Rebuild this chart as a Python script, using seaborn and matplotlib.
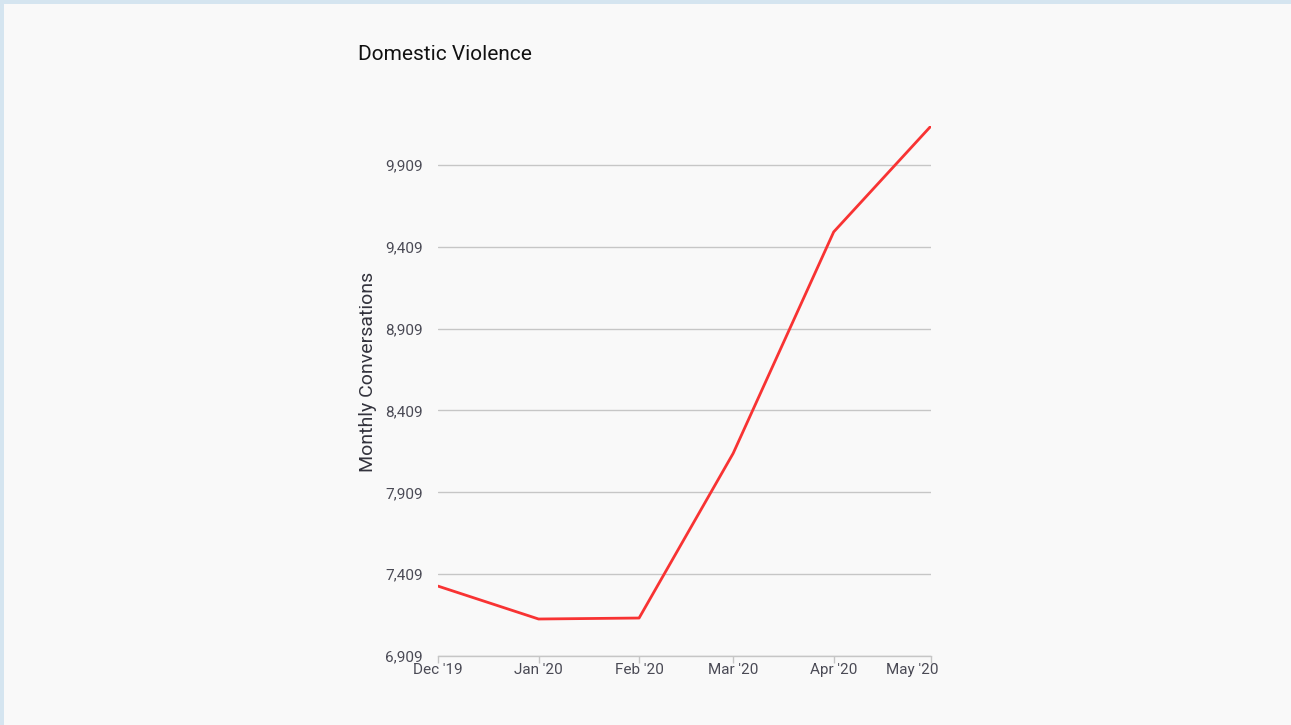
import matplotlib
matplotlib.use("Agg")
import matplotlib.pyplot as plt
import matplotlib.dates as mdates
import matplotlib.transforms as mtrans
from matplotlib.patches import Rectangle
import seaborn as sns
import pandas as pd

months = ["2019-12-01", "2020-01-01", "2020-02-01", "2020-03-01", "2020-04-01", "2020-05-01"]
conversations = [7336, 7135, 7141, 8147, 9500, 10147]
y_ticks = [6909, 7409, 7909, 8409, 8909, 9409, 9909]
title = "Domestic Violence"
y_label = "Monthly Conversations"

df = pd.DataFrame({"month": pd.to_datetime(months), "conversations": conversations})

sns.set_theme(style="white")
plt.rcParams["font.family"] = ["Roboto", "DejaVu Sans"]

fig = plt.figure(figsize=(12.91, 7.25), dpi=100, facecolor="#f9f9f9")
W, H = 1291, 725
ax = fig.add_axes([438 / W, 1 - 656 / H, (931 - 438) / W, (656 - 126) / H])
ax.set_facecolor("#f9f9f9")

sns.lineplot(data=df, x="month", y="conversations", ax=ax, color="#f83333", linewidth=2.0)

ax.set_xlim(df["month"].iloc[0], df["month"].iloc[-1])
ax.set_ylim(6909, 10147)
ax.set_yticks(y_ticks)
ax.set_yticklabels([f"{v:,}" for v in y_ticks])
ax.set_xticks(df["month"])
ax.xaxis.set_major_formatter(mdates.DateFormatter("%b '%y"))
ax.grid(axis="y", color="#c6c6c6", linewidth=1.0)
ax.grid(axis="x", visible=False)
for s in ["top", "right", "left"]:
    ax.spines[s].set_visible(False)
ax.spines["bottom"].set_color("#c6c6c6")
ax.spines["bottom"].set_linewidth(1.0)
ax.tick_params(axis="x", bottom=True, length=5, width=1, color="#c6c6c6",
               labelsize=11, labelcolor="#4a4a55", pad=0)
ax.tick_params(axis="y", left=False, length=0, labelsize=11, labelcolor="#4a4a55", pad=11)
ax.set_xlabel("")
ax.set_ylabel(y_label, fontsize=14, color="#33333d", va="center")
ax.yaxis.set_label_coords((368 - 438) / 493, (656 - 372) / 530)

labels = ax.get_xticklabels()
off = mtrans.ScaledTranslation(-19 / 100, 0, fig.dpi_scale_trans)
labels[-1].set_transform(labels[-1].get_transform() + off)

fig.text(358 / W, 1 - 54 / H, title, fontsize=15, color="#111111", ha="left", va="center")

# light blue frame on top and left edges
fig.patches.append(Rectangle((0, 1 - 4 / H), 1, 4 / H, transform=fig.transFigure,
                             facecolor="#d5e5f0", edgecolor="none", zorder=10))
fig.patches.append(Rectangle((0, 0), 4 / W, 1, transform=fig.transFigure,
                             facecolor="#d5e5f0", edgecolor="none", zorder=10))

fig.savefig("out.png", dpi=100, facecolor=fig.get_facecolor())
